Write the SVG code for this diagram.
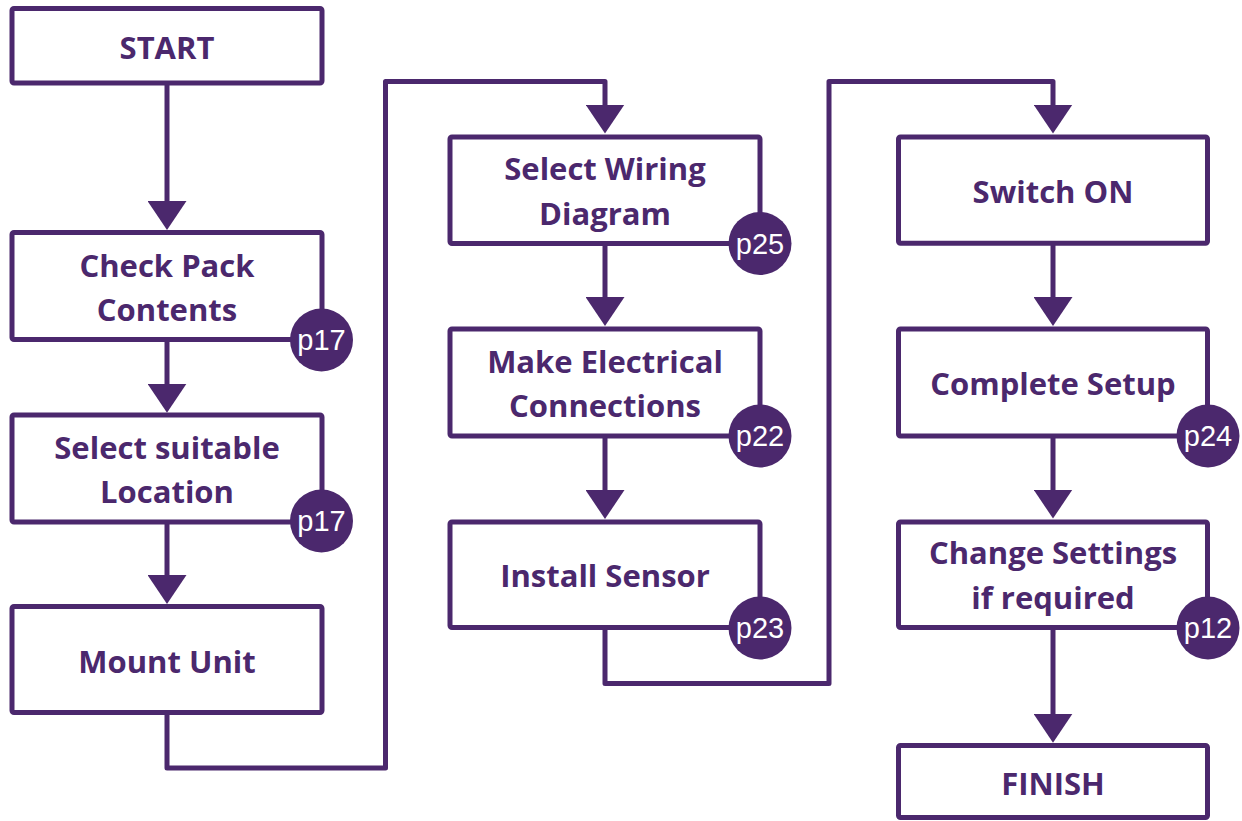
<svg xmlns="http://www.w3.org/2000/svg" width="1242" height="821" viewBox="0 0 1242 821">
<style>
.box{fill:#fff;stroke:#4B286D;stroke-width:5;stroke-linejoin:round}
.lbl{font-family:"Open Sans","Liberation Sans",sans-serif;font-weight:700;font-size:31px;fill:#4B286D;text-anchor:middle}
.badge{fill:#4B286D}
.pg{font-family:"Liberation Sans",Arial,sans-serif;font-size:29px;fill:#fff;text-anchor:middle}
.con{fill:none;stroke:#4B286D;stroke-width:5;stroke-linejoin:round;marker-end:url(#arr)}
.con2{fill:none;stroke:#4B286D;stroke-width:5;stroke-linejoin:round}
</style>
<defs>
<marker id="arr" viewBox="0 0 29 39" markerUnits="userSpaceOnUse" markerWidth="29" markerHeight="39" refX="10" refY="19.5" orient="auto">
<path d="M0,0 L29,19.5 L0,39 z" fill="#4B286D"/>
</marker>
</defs>
<rect width="1242" height="821" fill="#fff"/>
<g id="connectors">
<path class="con" d="M167,83 V211"/>
<path class="con" d="M167,339.5 V393.7"/>
<path class="con" d="M167,522 V585"/>
<path class="con" d="M167,712.5 V768 H385.5 V81.5 H605 V114.5"/>
<path class="con" d="M605,243.5 V307"/>
<path class="con" d="M605,436 V500"/>
<path class="con" d="M605,627.5 V683.5 H829 V81.5 H1053 V114.5"/>
<path class="con" d="M1053,243.3 V307"/>
<path class="con" d="M1053,436 V499.5"/>
<path class="con" d="M1053,627.5 V723.7"/>
</g>
<g id="start">
<rect class="box" x="12" y="8.5" width="310" height="74.5" rx="2"/>
<text class="lbl" x="167" y="59">START</text>
</g>
<g id="check-pack">
<rect class="box" x="12" y="232.5" width="310" height="107" rx="2"/>
<text class="lbl" x="167" y="276.5">Check Pack</text>
<text class="lbl" x="167" y="321">Contents</text>
<circle class="badge" cx="321.5" cy="340" r="31.5"/>
<text class="pg" x="321.5" y="350">p17</text>
</g>
<g id="select-location">
<rect class="box" x="12" y="415" width="310" height="107" rx="2"/>
<text class="lbl" x="167" y="458.5">Select suitable</text>
<text class="lbl" x="167" y="503">Location</text>
<circle class="badge" cx="321.5" cy="521" r="31.5"/>
<text class="pg" x="321.5" y="531">p17</text>
</g>
<g id="mount-unit">
<rect class="box" x="12" y="606.5" width="310" height="106" rx="2"/>
<text class="lbl" x="167" y="673">Mount Unit</text>
</g>
<g id="select-wiring">
<rect class="box" x="450" y="137" width="310" height="106.5" rx="2"/>
<text class="lbl" x="605" y="180">Select Wiring</text>
<text class="lbl" x="605" y="225">Diagram</text>
<circle class="badge" cx="760" cy="243.5" r="31.5"/>
<text class="pg" x="760" y="253.5">p25</text>
</g>
<g id="make-electrical">
<rect class="box" x="450" y="329" width="310" height="107" rx="2"/>
<text class="lbl" x="605" y="372.5">Make Electrical</text>
<text class="lbl" x="605" y="417">Connections</text>
<circle class="badge" cx="760" cy="436" r="31.5"/>
<text class="pg" x="760" y="446">p22</text>
</g>
<g id="install-sensor">
<rect class="box" x="450" y="522" width="310" height="105.5" rx="2"/>
<text class="lbl" x="605" y="587">Install Sensor</text>
<circle class="badge" cx="760" cy="628" r="31.5"/>
<text class="pg" x="760" y="638">p23</text>
</g>
<g id="switch-on">
<rect class="box" x="898.5" y="137" width="309" height="106.3" rx="2"/>
<text class="lbl" x="1053" y="202.5">Switch ON</text>
</g>
<g id="complete-setup">
<rect class="box" x="898.5" y="329" width="309" height="107" rx="2"/>
<text class="lbl" x="1053" y="395">Complete Setup</text>
<circle class="badge" cx="1208" cy="436" r="31.5"/>
<text class="pg" x="1208" y="446">p24</text>
</g>
<g id="change-settings">
<rect class="box" x="898.5" y="522" width="309" height="105.5" rx="2"/>
<text class="lbl" x="1053" y="563.5">Change Settings</text>
<text class="lbl" x="1053" y="608.5">if required</text>
<circle class="badge" cx="1208" cy="628" r="31.5"/>
<text class="pg" x="1208" y="638">p12</text>
</g>
<g id="finish">
<rect class="box" x="898.5" y="745.5" width="309" height="72" rx="2"/>
<text class="lbl" x="1053" y="795">FINISH</text>
</g>
</svg>
